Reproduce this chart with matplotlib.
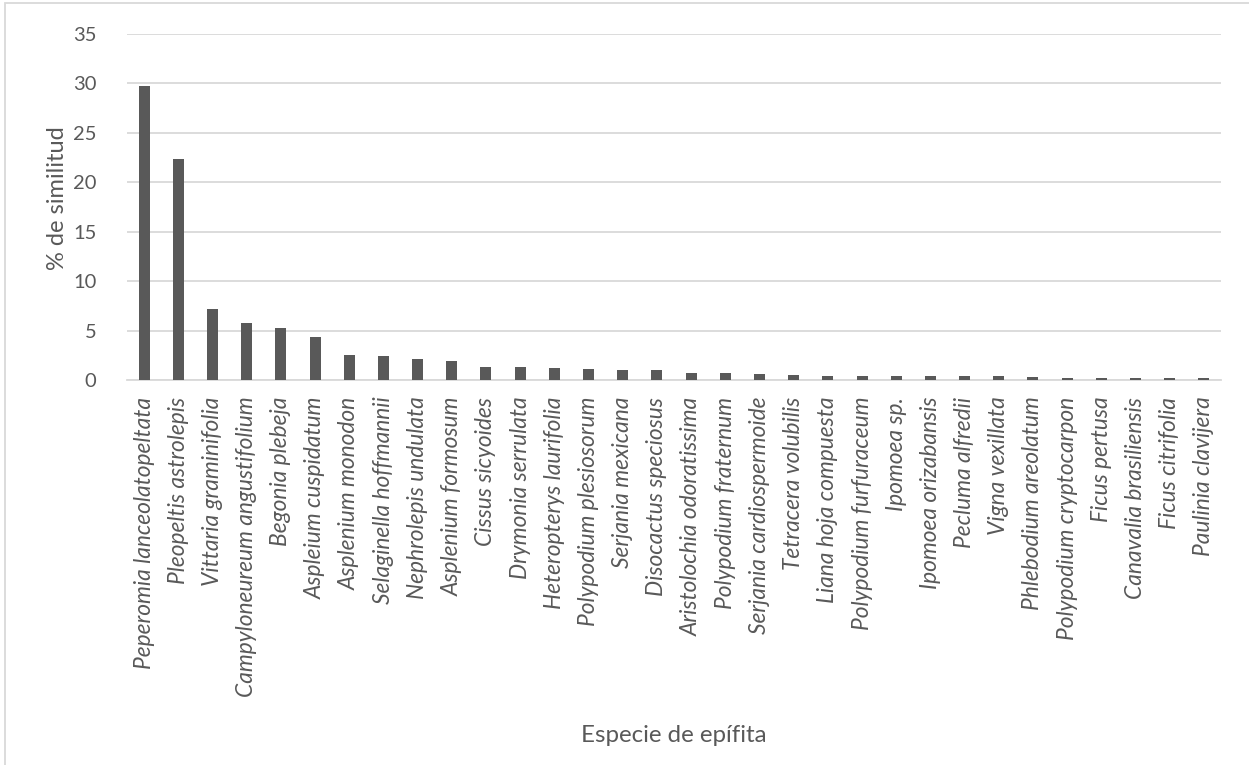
import matplotlib
matplotlib.use("Agg")
import matplotlib.pyplot as plt
from matplotlib.patches import Rectangle

especies = [
    "Peperomia lanceolatopeltata", "Pleopeltis astrolepis", "Vittaria graminifolia",
    "Campyloneureum angustifolium", "Begonia plebeja", "Aspleium cuspidatum",
    "Asplenium monodon", "Selaginella hoffmannii", "Nephrolepis undulata",
    "Asplenium formosum", "Cissus sicyoides", "Drymonia serrulata",
    "Heteropterys laurifolia", "Polypodium plesiosorum", "Serjania mexicana",
    "Disocactus speciosus", "Aristolochia odoratissima", "Polypodium fraternum",
    "Serjania cardiospermoide", "Tetracera volubilis", "Liana hoja compuesta",
    "Polypodium furfuraceum", "Ipomoea sp.", "Ipomoea orizabansis",
    "Pecluma alfredii", "Vigna vexillata", "Phlebodium areolatum",
    "Polypodium cryptocarpon", "Ficus pertusa", "Canavalia brasiliensis",
    "Ficus citrifolia", "Paulinia clavijera",
]
similitud = [
    29.7, 22.4, 7.15, 5.75, 5.25, 4.35, 2.5, 2.45, 2.1, 1.95, 1.3, 1.28,
    1.2, 1.11, 1.05, 1.0, 0.7, 0.66, 0.57, 0.47, 0.44, 0.44, 0.4, 0.4,
    0.4, 0.37, 0.27, 0.24, 0.24, 0.24, 0.2, 0.2,
]
yticks = [0, 5, 10, 15, 20, 25, 30, 35]

plt.rcParams['font.family'] = ['Lato', 'DejaVu Sans']
txt = '#595959'
grid = '#d9d9d9'

fig = plt.figure(figsize=(12.49, 7.65), dpi=100)
ax = fig.add_axes([127 / 1249, 1 - 380 / 765, (1221 - 127) / 1249, (380 - 34) / 765])

x = list(range(len(especies)))
ax.bar(x, similitud, width=0.32, color='#595959', zorder=3)

ax.set_xlim(-0.5, len(especies) - 0.5)
ax.set_ylim(0, 35)
ax.set_yticks(yticks)
ax.set_yticklabels([str(v) for v in yticks], fontsize=14.5, color=txt)
ax.set_xticks(x)
ax.set_xticklabels(especies, rotation=90, fontsize=16.4, style='italic', color=txt,
                   ha='center', va='top')
ax.tick_params(axis='both', length=0)
ax.tick_params(axis='y', pad=22)
ax.tick_params(axis='x', pad=12)
ax.yaxis.grid(True, color=grid, linewidth=1.3, zorder=0)
for s in ['top', 'right', 'left']:
    ax.spines[s].set_visible(False)
ax.spines['bottom'].set_color(grid)
ax.spines['bottom'].set_linewidth(1.3)

fig.text(57 / 1249, 1 - 198 / 765, '% de similitud', fontsize=17, color=txt,
         rotation=90, ha='center', va='center')
fig.text(674 / 1249, 1 - 735 / 765, 'Especie de epífita', fontsize=17.3, color=txt,
         ha='center', va='center')

# borde del área del gráfico (solo visible arriba e izquierda)
fig.patches.append(Rectangle((5 / 1249, -0.1), 1.2, 1 - 3 / 765 + 0.1,
                             transform=fig.transFigure, fill=False,
                             edgecolor=grid, linewidth=1.3))

fig.savefig('out.png', dpi=100, facecolor='white')
